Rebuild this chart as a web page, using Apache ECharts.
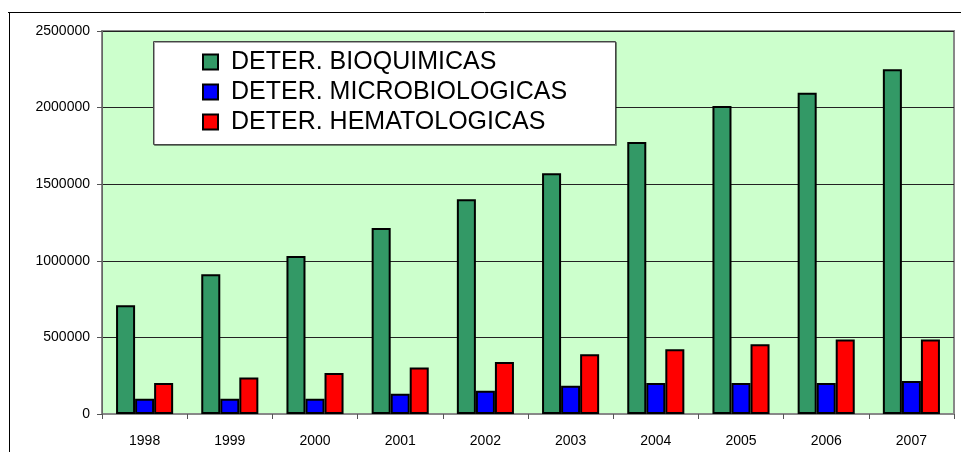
<!DOCTYPE html>
<html>
<head>
<meta charset="utf-8">
<script src="https://cdn.jsdelivr.net/npm/echarts@6/dist/echarts.min.js"></script>
<style>
  html, body { margin: 0; padding: 0; background: #fff; }
  #chart { width: 961px; height: 452px; }
</style>
</head>
<body>
<div id="chart"></div>
<script>
// años
var years = ['1998', '1999', '2000', '2001', '2002', '2003', '2004', '2005', '2006', '2007']
// determinaciones por año
var bioquimicas = [710000, 912000, 1032000, 1214000, 1402000, 1572000, 1775000, 2010000, 2097000, 2250000]
var microbiologicas = [100000, 100000, 100000, 132000, 152000, 185000, 203000, 203000, 203000, 216000]
var hematologicas = [203000, 238000, 268000, 304000, 340000, 390000, 422000, 456000, 487000, 487000]
var seriesNames = ['DETER. BIOQUIMICAS', 'DETER. MICROBIOLOGICAS', 'DETER. HEMATOLOGICAS']

var chart = echarts.init(document.getElementById('chart'))

function barSeries(name, data, color) {
  return {
    name: name,
    type: 'bar',
    data: data,
    barGap: '0%',
    barCategoryGap: '33%',
    itemStyle: { color: color, borderColor: '#000', borderWidth: 2 },
    emphasis: { disabled: true }
  }
}

chart.setOption({
  animation: false,
  backgroundColor: '#fff',
  textStyle: { fontFamily: 'Liberation Sans, Arial, sans-serif' },
  grid: {
    left: 102, top: 31, right: 7, bottom: 38,
    show: true,
    backgroundColor: '#ccffcc',
    borderColor: '#888',
    borderWidth: 2
  },
  graphic: [
    // marco exterior
    { type: 'line', z: 100, shape: { x1: 8, y1: 12.5, x2: 961, y2: 12.5 }, style: { stroke: '#000', lineWidth: 1 } },
    { type: 'line', z: 100, shape: { x1: 9.5, y1: 12, x2: 9.5, y2: 452 }, style: { stroke: '#000', lineWidth: 1 } },
    // caja de la leyenda
    { type: 'rect', z: 10, shape: { x: 153.5, y: 41.5, width: 462, height: 103 }, style: { fill: '#fff', stroke: '#444', lineWidth: 1, shadowColor: 'rgba(0,0,0,0.35)', shadowOffsetX: 1, shadowOffsetY: 1, shadowBlur: 0 } }
  ],
  legend: {
    z: 11,
    orient: 'vertical',
    left: 202,
    top: 47,
    padding: 0,
    itemGap: 0,
    itemWidth: 15,
    itemHeight: 15,
    icon: 'rect',
    selectedMode: false,
    data: seriesNames,
    textStyle: {
      fontSize: 25,
      lineHeight: 30,
      color: '#000',
      padding: [0, 0, 0, 8]
    }
  },
  xAxis: {
    type: 'category',
    data: years,
    axisLine: { lineStyle: { color: '#888', width: 1 } },
    axisTick: { show: true, length: 5, lineStyle: { color: '#555' } },
    axisLabel: { fontSize: 14, color: '#000', margin: 20 },
    splitLine: { show: false }
  },
  yAxis: {
    type: 'value',
    min: 0,
    max: 2500000,
    interval: 500000,
    axisLine: { show: true, lineStyle: { color: '#666', width: 1 } },
    axisTick: { show: true, length: 5, lineStyle: { color: '#555' } },
    axisLabel: { fontSize: 14, color: '#000', margin: 12, formatter: function (v) { return String(v) } },
    splitLine: { show: true, lineStyle: { color: '#222', width: 1 } }
  },
  series: [
    barSeries(seriesNames[0], bioquimicas, '#339966'),
    barSeries(seriesNames[1], microbiologicas, '#0000ff'),
    barSeries(seriesNames[2], hematologicas, '#ff0000')
  ]
})
</script>
</body>
</html>
